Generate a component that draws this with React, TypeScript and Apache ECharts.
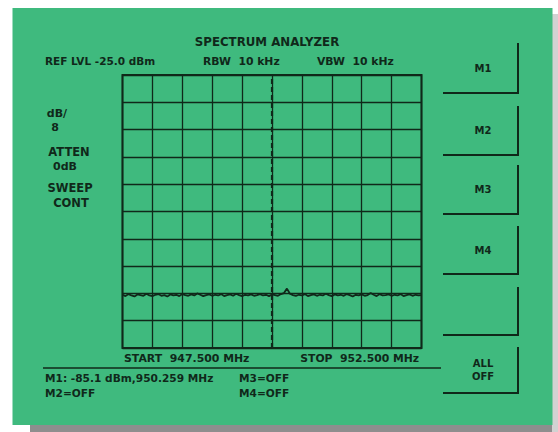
import React, { useEffect, useRef } from "react";
import * as echarts from "echarts";

// Sweep settings (MHz / dBm)
const startMHz = 947.5;
const stopMHz = 952.5;
const stepMHz = 0.05;
const refLevel = -25;
const dbPerDiv = 8;

// Trace levels, dBm, one per sweep point (101 points)
const traceLevels = [
  -89.4, -89.8, -89.2, -89.6, -89.9, -89.3, -89.5, -89.7, -89.1, -89.6,
  -89.8, -89.4, -89.2, -89.7, -89.5, -89.9, -89.3, -89.6, -89.4, -89.8,
  -89.2, -89.5, -89.7, -89.3, -89.6, -89.0, -89.4, -89.8, -89.5, -89.3,
  -89.7, -89.4, -89.6, -89.2, -89.8, -89.5, -89.3, -89.7, -89.1, -89.5,
  -89.8, -89.4, -89.6, -89.3, -89.7, -89.5, -89.2, -89.6, -89.4, -89.8,
  -89.3, -89.5, -89.7, -89.2, -88.9, -87.6, -89.1, -89.5, -89.7, -89.4,
  -89.6, -89.2, -89.8, -89.5, -89.3, -89.7, -89.4, -89.6, -89.1, -89.5,
  -89.8, -89.3, -89.6, -89.4, -89.7, -89.2, -89.5, -89.9, -89.4, -89.6,
  -89.3, -89.7, -89.5, -88.9, -89.4, -89.8, -89.2, -89.6, -89.5, -89.3,
  -89.7, -89.4, -89.6, -89.2, -89.8, -89.5, -89.3, -89.7, -89.4, -89.6,
  -89.5,
];

const headerTexts = ["SPECTRUM ANALYZER", "REF LVL -25.0 dBm", "RBW  10 kHz", "VBW  10 kHz"];
const sideTexts = ["dB/", "8", "ATTEN", "0dB", "SWEEP", "CONT"];
const footerTexts = ["START  947.500 MHz", "STOP  952.500 MHz"];
const markerTexts = ["M1: -85.1 dBm,950.259 MHz", "M3=OFF", "M2=OFF", "M4=OFF"];
const softKeys = ["M1", "M2", "M3", "M4", "", "ALL\nOFF"];

const INK = "#10281a";
const GREEN = "#3fba7e";
const FONT = "DejaVu Sans";

export default function App() {
  const ref = useRef<HTMLDivElement>(null);
  useEffect(() => {
    if (!ref.current) return;
    const chart = echarts.init(ref.current, null, { renderer: "svg" });
    const data = traceLevels.map((v, i) => [startMHz + i * stepMHz, v]);
    const txt = (text: string, x: number, y: number, align: string, size = 10) => ({
      type: "text",
      x,
      y,
      z: 10,
      style: {
        text,
        fill: INK,
        font: `bold ${size}px "${FONT}"`,
        textAlign: align,
        textVerticalAlign: "middle",
      },
    });
    const keyBoxes: [number, number][] = [
      [43, 93], [106, 155], [165, 214], [226, 274], [287, 335], [347, 393],
    ];
    const keyGraphics: any[] = [];
    keyBoxes.forEach(([t, b], i) => {
      keyGraphics.push({
        type: "polyline",
        z: 10,
        shape: { points: [[443, b], [518, b], [518, t]] },
        style: { stroke: INK, lineWidth: 2, fill: null },
      });
      const lab = softKeys[i];
      if (lab) {
        const lines = lab.split("\n");
        const cy = (t + b) / 2;
        lines.forEach((l, k) => {
          keyGraphics.push(txt(l, 483, cy + (k - (lines.length - 1) / 2) * 13, "center", 10));
        });
      }
    });

    chart.setOption({
      animation: false,
      backgroundColor: "#ffffff",
      grid: {
        left: 122.5,
        top: 75,
        width: 299,
        height: 273,
        show: true,
        borderColor: INK,
        borderWidth: 2,
        backgroundColor: "transparent",
      },
      xAxis: {
        type: "value",
        min: startMHz,
        max: stopMHz,
        interval: 0.5,
        axisLine: { show: false },
        axisTick: { show: false },
        axisLabel: { show: false },
        splitLine: { show: true, lineStyle: { color: INK, width: 1.3 } },
      },
      yAxis: [
        {
          type: "value",
          min: refLevel - 10 * dbPerDiv,
          max: refLevel,
          show: false,
          splitLine: { show: false },
        },
        {
          type: "value",
          min: 0,
          max: 10,
          interval: 1,
          axisLine: { show: false },
          axisTick: { show: false },
          axisLabel: { show: false },
          splitLine: { show: true, lineStyle: { color: INK, width: 1.3 } },
        },
      ],
      series: [
        {
          type: "line",
          yAxisIndex: 0,
          data,
          showSymbol: false,
          lineStyle: { color: INK, width: 1.8 },
          z: 5,
          markLine: {
            silent: true,
            symbol: ["none", "none"],
            label: { show: false },
            lineStyle: { color: INK, width: 2.2, type: [5, 3] },
            data: [{ xAxis: (startMHz + stopMHz) / 2 }],
          },
        },
      ],
      graphic: [
        { type: "rect", z: -100, shape: { x: 30, y: 424, width: 528, height: 8 }, style: { fill: "#8e8e8e" } },
        { type: "rect", z: -100, shape: { x: 552, y: 14, width: 6, height: 418 }, style: { fill: "#d2d2d2" } },
        { type: "rect", z: -99, shape: { x: 12.5, y: 8, width: 540, height: 417 }, style: { fill: GREEN } },
        txt(headerTexts[0], 267, 42, "center", 11.8),
        txt(headerTexts[1], 45, 61, "left", 10.5),
        txt(headerTexts[2], 203, 61, "left", 10.8),
        txt(headerTexts[3], 317, 61, "left", 10.8),
        txt(sideTexts[0], 57, 113, "center", 11),
        txt(sideTexts[1], 55, 127, "center", 11),
        txt(sideTexts[2], 69, 152, "center", 11.5),
        txt(sideTexts[3], 65, 166, "center", 11),
        txt(sideTexts[4], 70, 188, "center", 11.5),
        txt(sideTexts[5], 71, 203, "center", 11.5),
        txt(footerTexts[0], 124, 358, "left", 10.9),
        txt(footerTexts[1], 419, 358, "right", 10.8),
        {
          type: "line",
          z: 10,
          shape: { x1: 43, y1: 368, x2: 441, y2: 368 },
          style: { stroke: INK, lineWidth: 1.5 },
        },
        txt(markerTexts[0], 45, 378, "left", 10.6),
        txt(markerTexts[1], 239, 378, "left", 10.6),
        txt(markerTexts[2], 45, 393, "left", 10.6),
        txt(markerTexts[3], 239, 393, "left", 10.6),
        ...keyGraphics,
      ],
    });
    return () => chart.dispose();
  }, []);
  return (
    <div
      ref={ref}
      style={{ position: "fixed", left: 0, top: 0, width: 558, height: 432 }}
    />
  );
}
